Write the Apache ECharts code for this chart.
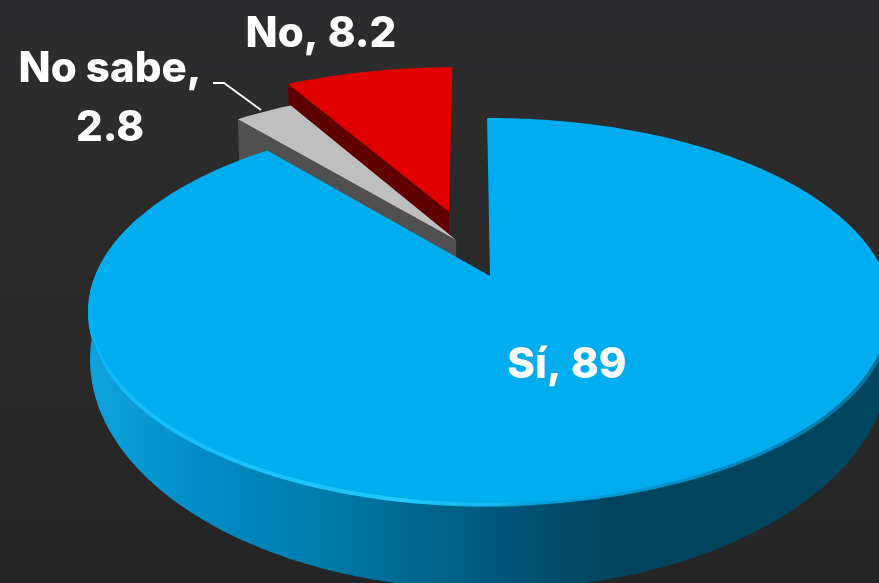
<!DOCTYPE html>
<html><head><meta charset="utf-8">
<style>html,body{margin:0;padding:0;background:#272728}#c{width:879px;height:583px}</style>
<script src="https://cdn.jsdelivr.net/npm/echarts@6/dist/echarts.min.js"></script>
</head><body><div id="c"></div>
<script>
// data
var categories = ['Sí', 'No sabe', 'No'];
var values = [89, 2.8, 8.2];

// look of each slice
var topColors = ['#00AEEF', '#BFBFBF', '#E00000'];
var sideColors = [null, '#505050', '#600000'];
var explodeU = [0, -0.089, -0.111];
var explodeV = [0, -0.2, -0.366];
var radialScale = [1, 1.035, 1.04];
var drawOrder = [30, 20, 10];
var firstAngle = -0.5;

// projection of the tilted disc
var CX = 490, CY = 276, RX = 395, RY = 187.3, K = 0.1856;
var upper = {cy: CY, rx: RX, ry: RY};
var lowerDisc = {cy: 317, rx: 393, ry: 222};
var lowerWedge = {cy: 348, rx: 392, ry: 195};
function project(u, v, f) {
  var w = 1 / (1 - K * v);
  return [CX + f.rx * u * w, f.cy + f.ry * v * w];
}
function rimPoint(deg, eu, ev, f, s) {
  var t = deg * Math.PI / 180;
  return project(Math.sin(t) * s + eu, -Math.cos(t) * s + ev, f);
}
function arc(a, b, eu, ev, f, s) {
  var pts = [], n = Math.max(4, Math.ceil(Math.abs(b - a)));
  for (var i = 0; i <= n; i++) pts.push(rimPoint(a + (b - a) * i / n, eu, ev, f, s));
  return pts;
}
var total = values.reduce(function (s, x) { return s + x; }, 0);
function sliceAngles(i) {
  var s = 0;
  for (var j = 0; j < i; j++) s += values[j];
  return [firstAngle + s / total * 360, firstAngle + (s + values[i]) / total * 360];
}
function labelText(i) {
  return i === 1 ? categories[i] + ',\n' + values[i] : categories[i] + ', ' + values[i];
}
var labelPos = [[567, 365], [110, 99], [321, 34]];

function renderSlice(params, api) {
  var i = params.dataIndex, ang = sliceAngles(i);
  var eu = explodeU[i], ev = explodeV[i], z = drawOrder[i], s = radialScale[i];
  var kids = [];
  var apexT = project(eu, ev, upper);
  var rimT = arc(ang[0], ang[1], eu, ev, upper, s);
  if (i === 0) {
    var front = arc(70, 290, 0, 0, upper, 1);
    var back = arc(290, 70, 0, 0, lowerDisc, 1);
    kids.push({type: 'polygon', z2: z, shape: {points: front.concat(back)}, style: {
      fill: {type: 'linear', x: 88, y: 0, x2: 879, y2: 0, global: true, colorStops: [
        {offset: 0, color: '#0FA3DE'}, {offset: 0.14, color: '#008DC6'},
        {offset: 0.27, color: '#007FB0'}, {offset: 0.44, color: '#00648A'},
        {offset: 0.53, color: '#00567A'}, {offset: 0.66, color: '#00445E'},
        {offset: 1, color: '#00465F'}]}
    }});
  } else {
    var a = rimPoint(ang[0], eu, ev, upper, s), b = rimPoint(ang[0], eu, ev, lowerWedge, s);
    var c = project(eu, ev, lowerWedge);
    kids.push({type: 'polygon', z2: z, shape: {points: [a, apexT, c, b]}, style: {fill: sideColors[i]}});
  }
  kids.push({type: 'polygon', z2: z + 1, shape: {points: [apexT].concat(rimT)}, style: {fill: topColors[i]}});
  if (i === 0) {
    kids.push({type: 'polyline', z2: z + 2, shape: {points: arc(100, 262, 0, 0, upper, 0.996)}, style: {
      fill: null, lineWidth: 4,
      stroke: {type: 'linear', x: 88, y: 0, x2: 879, y2: 0, global: true, colorStops: [
        {offset: 0, color: 'rgba(20,190,250,0.1)'}, {offset: 0.04, color: 'rgba(22,190,250,0.9)'},
        {offset: 0.4, color: '#22C8FF'}, {offset: 0.52, color: 'rgba(30,190,245,0.6)'},
        {offset: 0.6, color: 'rgba(0,110,150,0.2)'}, {offset: 1, color: 'rgba(0,70,100,0.6)'}]}
    }});
  }
  var p = labelPos[i];
  kids.push({type: 'text', z2: 60, style: {
    text: labelText(i), x: p[0], y: p[1], align: 'center', verticalAlign: 'middle',
    fill: '#FFFFFF', font: '800 42px Inter', lineHeight: 59
  }});
  if (i === 1) {
    kids.push({type: 'polyline', z2: 60, shape: {points: [[213, 83], [224, 83], [261, 110]]},
      style: {fill: null, stroke: '#FFFFFF', lineWidth: 1.8}});
  }
  return {type: 'group', children: kids};
}

var chart = echarts.init(document.getElementById('c'), null, {renderer: 'canvas'});
chart.setOption({
  animation: false,
  backgroundColor: {type: 'linear', x: 0, y: 0, x2: 0, y2: 1, colorStops: [
    {offset: 0, color: '#2D2D2F'}, {offset: 0.45, color: '#2A2A2B'}, {offset: 1, color: '#252525'}]},
  series: [{
    type: 'custom', coordinateSystem: 'none', renderItem: renderSlice,
    data: categories.map(function (n, i) { return {name: n, value: values[i]}; })
  }]
});
</script></body></html>
